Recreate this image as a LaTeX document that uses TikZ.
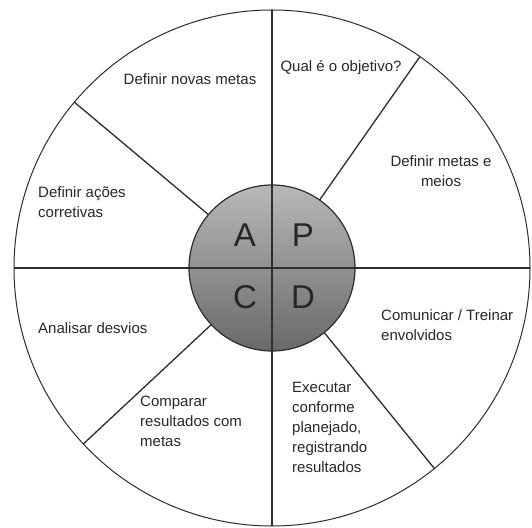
\documentclass[tikz,border=0pt]{standalone}
\usepackage{fontspec}
\setmainfont{Liberation Sans}
\definecolor{linecol}{RGB}{45,45,45}
\definecolor{txtcol}{RGB}{40,40,40}
\definecolor{shadetop}{RGB}{184,184,188}
\definecolor{shadebot}{RGB}{105,105,105}
\begin{document}
\begin{tikzpicture}[x=1pt,y=1pt,
  spoke/.style={line width=1.3pt,draw=linecol},
  lbl/.style={font=\fontsize{15}{20}\selectfont,text=txtcol,inner sep=0pt},
  letter/.style={font=\fontsize{33}{33}\selectfont,text=black!85,inner sep=0pt}]
\useasboundingbox (0,0) rectangle (532,527);
\fill[white] (0,0) rectangle (532,527);
% outer wheel
\node[circle,draw=linecol,line width=1pt,minimum size=516pt,inner sep=0pt,outer sep=0pt] (outer) at (272,259) {};
% inner disc
\node[circle,draw=linecol,line width=1.2pt,minimum size=166pt,inner sep=0pt,outer sep=0pt,
      top color=shadetop,bottom color=shadebot] (inner) at (272,259) {};
% diagonal spokes
\draw[spoke] (inner.55.3) -- (outer.55.3);
\draw[spoke] (inner.140.3) -- (outer.140.3);
\draw[spoke] (inner.223.9) -- (outer.223.9);
\draw[spoke] (inner.309.6) -- (outer.309.6);
% cross through the whole wheel
\draw[spoke] (outer.west) -- (outer.east);
\draw[spoke] (outer.north) -- (outer.south);
% PDCA letters
\node[letter] (lA) at (245,292) {A};
\node[letter] (lP) at (303,292) {P};
\node[letter] (lC) at (245,230) {C};
\node[letter] (lD) at (303,230) {D};
% sector labels
\node[lbl] (nm) at (190,448) {Definir novas metas};
\node[lbl] (qo) at (341,459) {Qual é o objetivo?};
\node[lbl,align=center] (mm) at (441,356) {Definir metas e\\meios};
\node[lbl,align=left,anchor=west] (ac) at (38,325) {Definir ações\\corretivas};
\node[lbl,anchor=west] (ad) at (38,199) {Analisar desvios};
\node[lbl,align=left,anchor=west] (ct) at (381,202) {Comunicar / Treinar\\envolvidos};
\node[lbl,align=left,anchor=west] (cr) at (140,106) {Comparar\\resultados com\\metas};
\node[lbl,align=left,anchor=west] (ex) at (292,100) {Executar\\conforme\\planejado,\\registrando\\resultados};
\end{tikzpicture}
\end{document}
